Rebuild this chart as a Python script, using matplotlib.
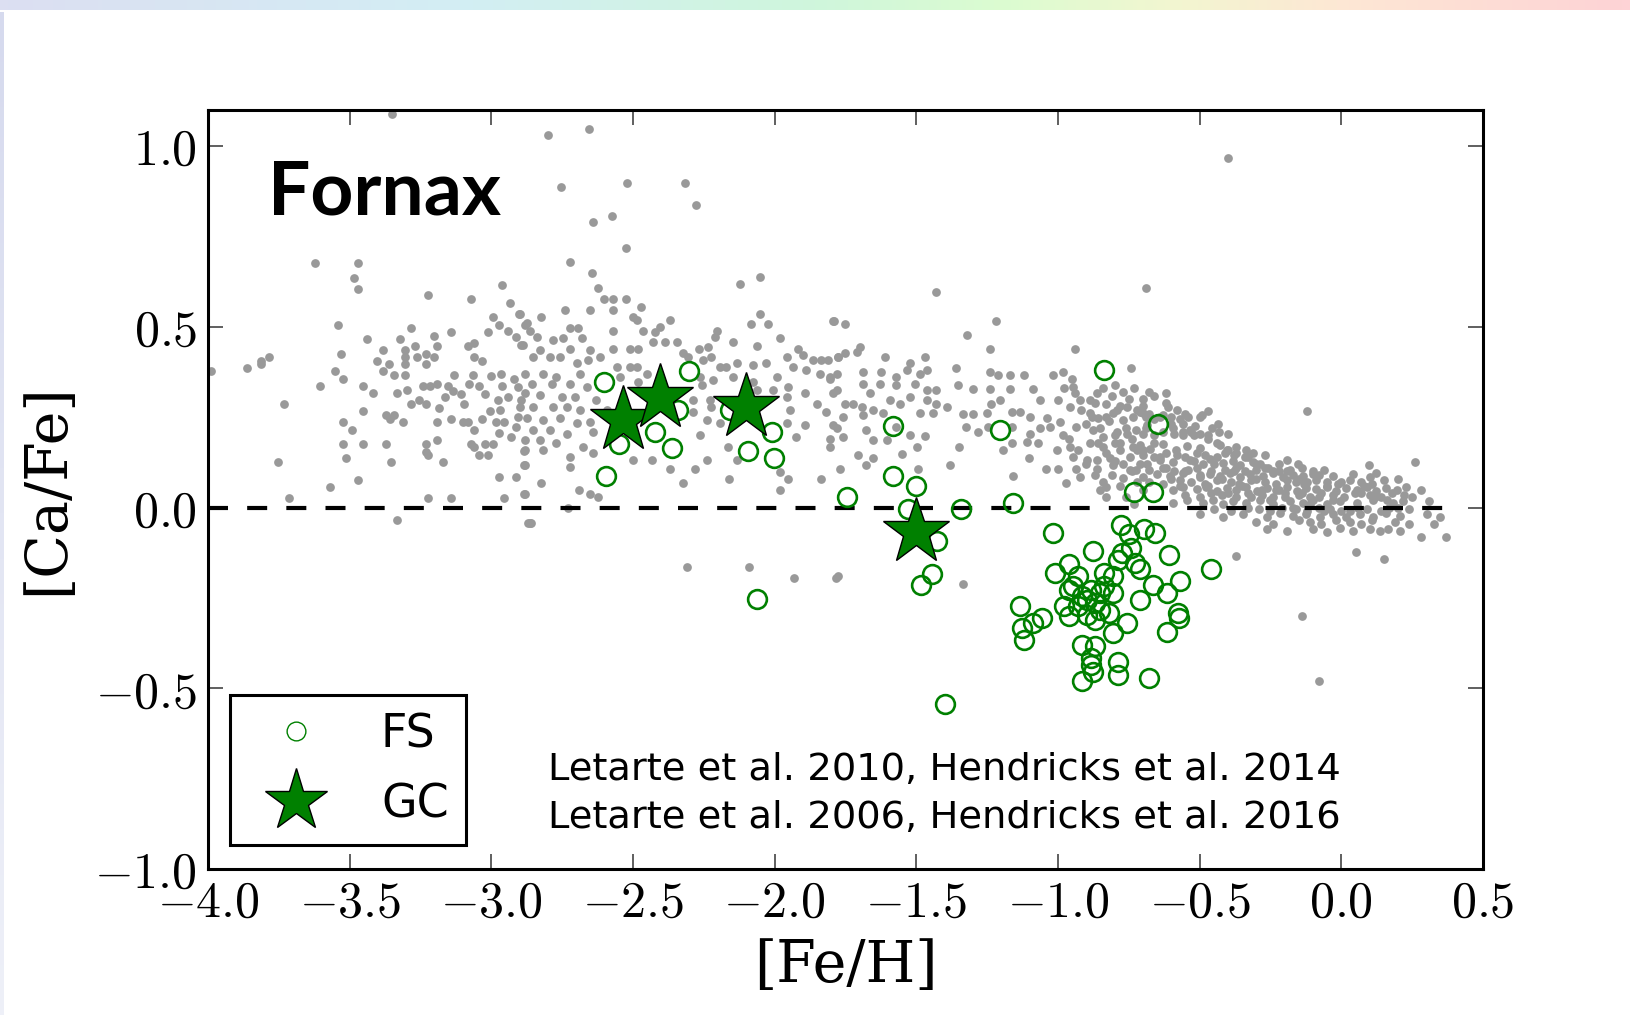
import matplotlib
matplotlib.use('Agg')
import matplotlib.pyplot as plt
import matplotlib.ticker as mticker
import numpy as np
from matplotlib.lines import Line2D
from matplotlib.colors import LinearSegmentedColormap

plt.rcParams['mathtext.fontset'] = 'cm'
plt.rcParams['font.family'] = 'DejaVu Sans'

# field stars of the MW-like comparison sample (gray) in chunks
gray_poor = [
    (-3.624, 0.677), (-3.472, 0.677), (-3.483, 0.635), (-3.472, 0.605), (-3.224, 0.587),
    (-2.964, 0.616), (-3.073, 0.576), (-2.934, 0.566), (-2.903, 0.537), (-2.993, 0.526),
    (-2.882, 0.506), (-2.972, 0.506), (-2.942, 0.490), (-2.913, 0.472), (-2.895, 0.449),
    (-3.013, 0.487), (-3.142, 0.486), (-3.283, 0.496), (-3.542, 0.506), (-3.438, 0.467),
    (-3.323, 0.466), (-3.201, 0.476), (-3.193, 0.447), (-3.271, 0.447), (-3.303, 0.437),
    (-3.383, 0.437), (-3.532, 0.426), (-3.783, 0.416), (-3.812, 0.407), (-3.812, 0.396),
    (-3.862, 0.387), (-3.991, 0.377), (-3.404, 0.407), (-3.362, 0.396), (-3.303, 0.416),
    (-3.303, 0.396), (-3.262, 0.416), (-3.232, 0.426), (-3.232, 0.396), (-3.203, 0.416),
    (-3.083, 0.447), (-3.062, 0.456), (-3.062, 0.416), (-3.033, 0.407), (-3.553, 0.377),
    (-3.523, 0.356), (-3.383, 0.377), (-3.342, 0.366), (-3.303, 0.366), (-3.133, 0.366),
    (-3.066, 0.366), (-3.001, 0.363), (-2.966, 0.370), (-2.919, 0.356), (-3.603, 0.336),
    (-3.452, 0.336), (-3.418, 0.317), (-3.332, 0.317), (-3.297, 0.326), (-3.242, 0.336),
    (-3.218, 0.336), (-3.191, 0.343), (-3.154, 0.336), (-3.136, 0.324), (-3.165, 0.306),
    (-3.080, 0.343), (-3.042, 0.336), (-3.024, 0.315), (-2.962, 0.336), (-2.942, 0.306),
    (-2.907, 0.333), (-2.895, 0.297), (-3.732, 0.286), (-3.283, 0.286), (-3.254, 0.297),
    (-3.230, 0.286), (-3.183, 0.276), (-3.107, 0.315), (-3.095, 0.286), (-2.977, 0.297),
    (-2.969, 0.269), (-3.003, 0.266), (-3.452, 0.266), (-3.371, 0.255), (-3.342, 0.255),
    (-3.359, 0.246), (-3.523, 0.237), (-3.312, 0.237), (-3.193, 0.237), (-3.142, 0.246),
    (-3.101, 0.237), (-3.083, 0.237), (-3.033, 0.246), (-2.983, 0.237), (-2.954, 0.237),
    (-2.907, 0.250), (-2.913, 0.223), (-3.492, 0.216), (-3.062, 0.216), (-2.972, 0.207),
    (-2.930, 0.195), (-3.523, 0.177), (-3.452, 0.177), (-3.371, 0.177), (-3.232, 0.177),
    (-3.193, 0.186), (-3.071, 0.177), (-3.060, 0.168), (-3.024, 0.177), (-2.993, 0.177),
    (-3.230, 0.154), (-3.224, 0.146), (-3.042, 0.146), (-3.013, 0.146), (-2.883, 0.157),
    (-3.512, 0.136), (-3.753, 0.127), (-3.354, 0.127), (-3.171, 0.127), (-2.883, 0.117),
    (-2.972, 0.086), (-2.913, 0.086), (-3.472, 0.076), (-3.571, 0.057), (-3.713, 0.027),
    (-3.224, 0.027), (-3.142, 0.027), (-2.954, 0.027), (-2.883, 0.037), (-3.332, -0.033),
    (-2.872, -0.042), (-3.350, 1.090),
]

gray_mid = [
    (-2.801, 1.030), (-2.654, 1.047), (-2.753, 0.886), (-2.522, 0.898), (-2.317, 0.898),
    (-2.277, 0.837), (-2.640, 0.791), (-2.574, 0.806),
    (-2.523, 0.717), (-2.723, 0.679), (-2.643, 0.648), (-2.623, 0.607), (-2.123, 0.618),
    (-2.052, 0.637), (-2.601, 0.577), (-2.572, 0.577), (-2.523, 0.577), (-2.470, 0.556),
    (-2.741, 0.547), (-2.652, 0.547), (-2.572, 0.547), (-2.499, 0.528), (-2.487, 0.519),
    (-2.052, 0.537), (-1.793, 0.517), (-2.823, 0.528), (-2.899, 0.537), (-2.875, 0.510),
    (-2.370, 0.519), (-2.405, 0.500), (-2.423, 0.487), (-2.464, 0.488), (-2.570, 0.488),
    (-2.723, 0.496), (-2.693, 0.496), (-2.864, 0.488), (-2.840, 0.473), (-2.781, 0.463),
    (-2.748, 0.468), (-2.681, 0.468), (-2.082, 0.507), (-2.023, 0.507), (-2.202, 0.488),
    (-2.211, 0.473), (-2.146, 0.457), (-1.982, 0.468), (-2.429, 0.457), (-2.387, 0.457),
    (-2.346, 0.457), (-2.511, 0.440), (-2.481, 0.440), (-2.234, 0.445), (-2.267, 0.438),
    (-2.572, 0.438), (-2.652, 0.436), (-2.723, 0.439), (-2.828, 0.436), (-2.887, 0.450),
    (-2.062, 0.448), (-1.958, 0.417), (-1.917, 0.440), (-1.899, 0.422), (-1.864, 0.408),
    (-1.835, 0.408), (-1.811, 0.408), (-1.776, 0.417), (-2.223, 0.417), (-2.252, 0.408),
    (-2.305, 0.417), (-2.323, 0.427), (-2.617, 0.417), (-2.758, 0.417), (-2.793, 0.417),
    (-2.852, 0.417), (-2.699, 0.399), (-2.658, 0.408), (-2.558, 0.390), (-2.511, 0.390),
    (-2.487, 0.390), (-2.452, 0.371), (-2.193, 0.390), (-2.170, 0.390), (-2.134, 0.399),
    (-2.076, 0.394), (-2.029, 0.399), (-1.935, 0.390), (-1.888, 0.380), (-1.841, 0.371),
    (-1.805, 0.362), (-2.881, 0.371), (-2.817, 0.371), (-2.770, 0.362), (-2.687, 0.371),
    (-2.546, 0.362), (-2.264, 0.362), (-2.217, 0.353), (-2.146, 0.362), (-1.993, 0.362),
    (-2.858, 0.343), (-2.787, 0.343), (-2.723, 0.343), (-2.664, 0.334), (-2.481, 0.348),
    (-2.258, 0.339), (-2.099, 0.334), (-2.076, 0.348), (-2.064, 0.325), (-2.005, 0.325),
    (-1.952, 0.334), (-1.893, 0.318), (-1.793, 0.316), (-2.881, 0.316), (-2.828, 0.311),
    (-2.752, 0.307), (-2.705, 0.307), (-2.629, 0.297), (-2.287, 0.297), (-2.229, 0.297),
    (-2.170, 0.297), (-1.958, 0.307), (-1.852, 0.288), (-2.899, 0.279), (-2.852, 0.279),
    (-2.781, 0.279), (-2.734, 0.279), (-2.687, 0.270), (-2.593, 0.270), (-2.287, 0.265),
    (-2.223, 0.279), (-1.946, 0.270), (-1.817, 0.265), (-2.875, 0.247), (-2.817, 0.242),
    (-2.758, 0.247), (-2.699, 0.233), (-2.652, 0.238), (-2.240, 0.242), (-2.193, 0.233),
    (-1.958, 0.233), (-1.893, 0.228), (-1.793, 0.228), (-2.852, 0.214), (-2.793, 0.214),
    (-2.734, 0.205), (-2.640, 0.210), (-2.264, 0.200), (-1.923, 0.196), (-2.881, 0.187),
    (-2.828, 0.187), (-2.770, 0.178), (-2.676, 0.168), (-2.164, 0.168), (-1.805, 0.168),
    (-2.881, 0.159), (-2.817, 0.159), (-2.723, 0.141), (-2.640, 0.150), (-2.499, 0.131),
    (-2.434, 0.131), (-2.240, 0.131), (-2.134, 0.131), (-2.881, 0.118), (-2.723, 0.113),
    (-2.370, 0.108), (-2.282, 0.108), (-1.982, 0.099), (-2.823, 0.067), (-2.323, 0.067),
    (-2.160, 0.078), (-1.952, 0.078), (-1.835, 0.078), (-2.690, 0.048), (-2.652, 0.039),
    (-2.623, 0.030), (-1.982, 0.048), (-2.881, 0.039), (-2.728, -0.002), (-2.860, -0.042),
    (-2.311, -0.164), (-2.090, -0.164), (-1.933, -0.194), (-1.782, -0.194),
]

gray_rich = [
    (-1.431, 0.597), (-1.220, 0.517), (-0.688, 0.607), (-1.791, 0.517), (-1.752, 0.507),
    (-1.320, 0.477), (-1.699, 0.445), (-1.711, 0.431), (-1.752, 0.427), (-1.776, 0.417),
    (-1.611, 0.417), (-1.470, 0.417), (-1.240, 0.438), (-0.941, 0.438), (-0.741, 0.387),
    (-1.523, 0.399), (-1.360, 0.387), (-1.687, 0.376), (-1.623, 0.376), (-1.570, 0.362),
    (-1.534, 0.380), (-1.487, 0.371), (-1.464, 0.380), (-1.781, 0.371), (-1.805, 0.357),
    (-1.240, 0.376), (-1.211, 0.367), (-1.170, 0.367), (-1.120, 0.367), (-1.019, 0.367),
    (-0.982, 0.376), (-0.952, 0.357), (-0.946, 0.334), (-0.941, 0.316), (-1.687, 0.343),
    (-1.629, 0.343), (-1.570, 0.339), (-1.505, 0.343), (-1.464, 0.325), (-1.352, 0.339),
    (-1.299, 0.327), (-1.240, 0.327), (-1.170, 0.327), (-1.088, 0.327), (-0.864, 0.316),
    (-1.781, 0.325), (-1.664, 0.316), (-1.523, 0.307), (-1.429, 0.325), (-1.752, 0.288),
    (-1.723, 0.288), (-1.693, 0.279), (-1.652, 0.270), (-1.593, 0.297), (-1.558, 0.288),
    (-1.464, 0.297), (-1.429, 0.288), (-1.393, 0.279), (-1.235, 0.288), (-1.205, 0.297),
    (-1.064, 0.297), (-0.999, 0.297), (-0.958, 0.279), (-0.923, 0.297), (-0.888, 0.297),
    (-0.829, 0.288), (-0.793, 0.270), (-0.758, 0.279), (-0.711, 0.265), (-1.758, 0.251),
    (-1.687, 0.256), (-1.617, 0.261), (-1.487, 0.261), (-1.440, 0.261), (-1.335, 0.259),
    (-1.299, 0.259), (-1.252, 0.261), (-1.164, 0.265), (-1.135, 0.265), (-1.099, 0.251),
    (-1.040, 0.247), (-0.994, 0.238), (-0.888, 0.261), (-0.858, 0.247), (-0.829, 0.251),
    (-0.805, 0.261), (-0.770, 0.242), (-0.735, 0.251), (-0.688, 0.256), (-1.781, 0.219),
    (-1.676, 0.214), (-1.570, 0.224), (-1.523, 0.201), (-1.470, 0.198), (-1.323, 0.224),
    (-1.282, 0.210), (-1.246, 0.224), (-1.164, 0.224), (-1.099, 0.205), (-1.064, 0.219),
    (-1.029, 0.224), (-0.982, 0.201), (-0.935, 0.224), (-0.876, 0.214), (-0.841, 0.196),
    (-0.793, 0.210), (-0.758, 0.205), (-0.723, 0.214), (-1.805, 0.191), (-1.758, 0.196),
    (-1.652, 0.187), (-1.605, 0.187), (-1.499, 0.168), (-1.349, 0.168), (-1.193, 0.159),
    (-1.164, 0.178), (-1.111, 0.182), (-1.070, 0.178), (-1.005, 0.159), (-0.958, 0.168),
    (-0.888, 0.178), (-0.841, 0.168), (-0.799, 0.178), (-0.782, 0.159), (-0.735, 0.168),
    (-0.699, 0.159), (-1.705, 0.145), (-1.652, 0.136), (-1.552, 0.148), (-1.102, 0.136),
    (-0.947, 0.141), (-0.899, 0.131), (-0.864, 0.131), (-0.817, 0.136), (-0.747, 0.141),
    (-1.770, 0.108), (-1.676, 0.118), (-1.493, 0.108), (-1.382, 0.118), (-1.041, 0.108),
    (-1.000, 0.108), (-0.935, 0.108), (-0.864, 0.108), (-0.805, 0.118), (-0.747, 0.104),
    (-0.711, 0.122), (-1.160, 0.087), (-0.970, 0.067), (-0.923, 0.085), (-0.770, 0.081),
    (-0.852, 0.048), (-0.829, 0.030), (-0.829, 0.058), (-0.723, 0.104),
    (-1.775, -0.190), (-1.335, -0.210), (-2.862, -0.042),
    (-0.88, 0.25), (-0.85, 0.22), (-0.82, 0.24), (-0.80, 0.20), (-0.78, 0.18),
    (-0.76, 0.22), (-0.74, 0.19), (-0.72, 0.16), (-0.86, 0.18), (-0.83, 0.15),
    (-0.80, 0.13), (-0.77, 0.12), (-0.74, 0.10), (-0.72, 0.07), (-0.70, 0.05),
    (-0.78, 0.28), (-0.75, 0.30), (-0.72, 0.27), (-0.69, 0.22), (-0.66, 0.18),
    (-0.98, 0.33), (-0.92, 0.27), (-0.90, 0.23), (-0.87, 0.29), (-0.84, 0.33),
    (-0.81, 0.31), (-0.96, 0.19), (-0.93, 0.16), (-0.90, 0.12), (-0.87, 0.09),
    (-0.84, 0.07), (-0.81, 0.09), (-0.78, 0.06), (-0.76, 0.03), (-0.73, 0.01),
    (-0.80, 0.34), (-0.77, 0.32), (-0.73, 0.33), (-0.70, 0.28), (-0.68, 0.32),
]

gray_solar = [
    (-0.620, 0.318), (-0.470, 0.267), (-0.120, 0.267), (-0.611, 0.279), (-0.700, 0.261),
    (-0.687, 0.228), (-0.593, 0.220), (-0.558, 0.231), (-0.535, 0.214), (-0.517, 0.226),
    (-0.458, 0.219), (-0.435, 0.230),
    (-0.711, 0.172), (-0.676, 0.163), (-0.629, 0.175), (-0.582, 0.160), (-0.546, 0.170),
    (-0.499, 0.164), (-0.429, 0.173), (-0.405, 0.160), (-0.370, 0.168), (-0.335, 0.158),
    (-0.687, 0.122), (-0.640, 0.133), (-0.593, 0.125), (-0.535, 0.131), (-0.488, 0.120),
    (-0.464, 0.134), (-0.417, 0.124), (-0.382, 0.130), (-0.358, 0.119), (-0.311, 0.127),
    (-0.288, 0.121), (-0.193, 0.131), (-0.152, 0.122),
    (-0.699, 0.086), (-0.652, 0.094), (-0.605, 0.088), (-0.558, 0.095), (-0.499, 0.084),
    (-0.464, 0.093), (-0.429, 0.087), (-0.393, 0.096), (-0.358, 0.085), (-0.323, 0.092),
    (-0.276, 0.088), (-0.241, 0.095), (-0.205, 0.084), (-0.170, 0.091), (-0.135, 0.087),
    (-0.099, 0.094), (-0.029, 0.088), (0.042, 0.093), (0.101, 0.086), (0.124, 0.095),
    (-0.593, 0.049), (-0.558, 0.057), (-0.511, 0.051), (-0.476, 0.058), (-0.440, 0.047),
    (-0.405, 0.055), (-0.370, 0.050), (-0.335, 0.058), (-0.299, 0.046), (-0.264, 0.054),
    (-0.229, 0.049), (-0.193, 0.057), (-0.158, 0.047), (-0.123, 0.055), (-0.088, 0.051),
    (-0.052, 0.058), (-0.017, 0.046), (0.018, 0.054), (0.054, 0.049), (0.089, 0.057),
    (0.124, 0.047), (0.159, 0.055), (0.195, 0.050), (0.230, 0.056),
    (-0.593, 0.012), (-0.546, 0.020), (-0.488, 0.014), (-0.452, 0.021), (-0.417, 0.010),
    (-0.382, 0.018), (-0.335, 0.013), (-0.288, 0.021), (-0.241, 0.011), (-0.182, 0.019),
    (-0.135, 0.014), (-0.099, 0.022), (-0.052, 0.010), (-0.005, 0.018), (0.054, 0.013),
    (0.112, 0.020), (0.183, 0.012), (0.218, 0.019),
    (-0.499, -0.017), (-0.417, -0.025), (-0.346, -0.018), (-0.264, -0.026), (-0.217, -0.016),
    (-0.170, -0.024), (-0.123, -0.019), (-0.076, -0.027), (-0.029, -0.017), (0.018, -0.025),
    (0.065, -0.018), (0.112, -0.026), (0.159, -0.016), (0.206, -0.024), (0.301, -0.019),
    (0.348, -0.027),
    (-0.264, -0.058), (-0.193, -0.066), (-0.099, -0.060), (-0.052, -0.067), (-0.005, -0.057),
    (0.042, -0.065), (0.101, -0.059), (0.136, -0.066), (0.165, -0.058), (0.206, -0.064),
    (0.283, -0.081), (0.371, -0.081),
    (-0.370, -0.133), (0.051, -0.123), (0.151, -0.143), (0.259, 0.127), (0.098, 0.118),
    (0.200, 0.078), (0.309, 0.019), (0.326, -0.044), (-0.137, -0.301), (-0.079, -0.481),
    (-0.399, 0.967),
    (-0.70, 0.30), (-0.66, 0.31), (-0.62, 0.29), (-0.58, 0.27), (-0.55, 0.26),
    (-0.50, 0.25), (-0.68, 0.26), (-0.64, 0.25), (-0.60, 0.23), (-0.56, 0.21),
    (-0.52, 0.20), (-0.47, 0.19), (-0.44, 0.18), (-0.40, 0.16), (-0.37, 0.15),
    (-0.33, 0.14), (-0.30, 0.12), (-0.27, 0.11), (-0.24, 0.10), (-0.22, 0.12),
    (-0.19, 0.10), (-0.15, 0.08), (-0.12, 0.07), (-0.08, 0.09), (-0.05, 0.06),
    (0.00, 0.07), (0.05, 0.04), (0.08, 0.06), (0.12, 0.03), (0.16, 0.02),
    (0.20, 0.00), (0.25, 0.03), (0.28, 0.05),
    (-0.64, 0.14), (-0.62, 0.11), (-0.60, 0.08), (-0.57, 0.06), (-0.55, 0.10),
    (-0.52, 0.13), (-0.50, 0.09), (-0.47, 0.06), (-0.45, 0.12), (-0.42, 0.08),
    (-0.40, 0.04), (-0.38, 0.10), (-0.35, 0.06), (-0.32, 0.03), (-0.30, 0.08),
    (-0.28, 0.05), (-0.25, 0.02), (-0.22, 0.05), (-0.20, 0.03), (-0.17, 0.00),
    (-0.14, 0.04), (-0.11, 0.01), (-0.08, 0.03), (-0.06, -0.01), (-0.03, 0.02),
    (0.00, -0.01),
]

# the dense solar-metallicity clump, filled in row by row
gray_clump = [
    (-0.69, 0.25), (-0.66, 0.245), (-0.63, 0.255), (-0.60, 0.25), (-0.57, 0.245),
    (-0.54, 0.25), (-0.49, 0.255),
    (-0.70, 0.205), (-0.66, 0.20), (-0.63, 0.21), (-0.59, 0.205), (-0.56, 0.20),
    (-0.53, 0.21), (-0.50, 0.205), (-0.47, 0.20), (-0.43, 0.21), (-0.40, 0.205),
    (-0.70, 0.145), (-0.66, 0.14), (-0.62, 0.15), (-0.58, 0.145), (-0.55, 0.14),
    (-0.51, 0.15), (-0.48, 0.145), (-0.44, 0.14), (-0.41, 0.15), (-0.38, 0.145),
    (-0.34, 0.14), (-0.31, 0.15), (-0.27, 0.145),
    (-0.68, 0.105), (-0.63, 0.11), (-0.59, 0.10), (-0.54, 0.105), (-0.51, 0.11),
    (-0.46, 0.10), (-0.41, 0.105), (-0.37, 0.11), (-0.34, 0.10), (-0.30, 0.105),
    (-0.26, 0.11), (-0.22, 0.10), (-0.18, 0.105), (-0.14, 0.11), (-0.10, 0.10),
    (-0.06, 0.105),
    (-0.68, 0.07), (-0.63, 0.065), (-0.57, 0.075), (-0.53, 0.07), (-0.48, 0.065),
    (-0.44, 0.075), (-0.39, 0.07), (-0.36, 0.065), (-0.32, 0.075), (-0.27, 0.07),
    (-0.23, 0.065), (-0.19, 0.075), (-0.16, 0.07), (-0.13, 0.065), (-0.09, 0.075),
    (-0.05, 0.07), (-0.01, 0.065), (0.03, 0.075), (0.07, 0.07), (0.11, 0.065),
    (0.15, 0.075),
    (-0.55, 0.035), (-0.50, 0.03), (-0.46, 0.04), (-0.42, 0.035), (-0.37, 0.03),
    (-0.33, 0.04), (-0.28, 0.035), (-0.24, 0.03), (-0.20, 0.04), (-0.15, 0.035),
    (-0.11, 0.03), (-0.07, 0.04), (-0.03, 0.035), (0.01, 0.03), (0.07, 0.04),
    (0.10, 0.035), (0.14, 0.03), (0.18, 0.04), (0.22, 0.035),
    (-0.45, -0.005), (-0.39, -0.01), (-0.33, 0.00), (-0.29, -0.005), (-0.25, -0.01),
    (-0.21, 0.00), (-0.16, -0.005), (-0.12, -0.01), (-0.08, 0.00), (-0.04, -0.005),
    (0.03, -0.01), (0.06, 0.00), (0.09, -0.005), (0.14, -0.01), (0.17, 0.00),
    (0.24, -0.005),
    (-0.30, -0.04), (-0.24, -0.045), (-0.15, -0.035), (-0.11, -0.04), (-0.07, -0.045),
    (-0.02, -0.035), (0.03, -0.04), (0.07, -0.045), (0.11, -0.035), (0.19, -0.04),
    (0.24, -0.045),
]

# Fornax field stars (FS), open green circles
fs_feh = [-2.602, -2.303, -2.341, -2.422, -2.551, -2.362, -2.594, -2.158, -2.011, -2.094,
          -2.002, -1.582, -1.582, -1.502, -1.743, -1.529, -1.341, -1.427, -1.443, -1.482,
          -2.062, -1.206, -0.836, -0.648, -1.159, -0.730, -0.664, -1.017, -1.399, -0.459,
          -0.778, -0.695, -0.656, -0.750, -0.742, -0.774, -0.727, -0.876, -0.608, -0.962,
          -1.009, -0.931, -0.836, -0.805, -0.711, -0.664, -0.569, -0.962, -0.915, -0.884,
          -0.836, -0.805, -0.616, -0.711, -0.978, -0.931, -0.868, -0.821, -0.962, -0.899,
          -0.868, -1.135, -1.057, -1.088, -1.127, -1.119, -0.758, -0.577, -0.572, -0.616,
          -0.805, -0.915, -0.868, -0.884, -0.884, -0.789, -0.789, -0.915, -0.876, -0.679,
          -0.852, -0.899, -0.852, -0.946, -0.789]
fs_cafe = [0.348, 0.378, 0.270, 0.208, 0.175, 0.166, 0.088, 0.270, 0.208, 0.157,
           0.138, 0.226, 0.088, 0.059, 0.028, -0.003, -0.003, -0.092, -0.183, -0.215,
           -0.252, 0.214, 0.381, 0.230, 0.012, 0.042, 0.042, -0.069, -0.544, -0.169,
           -0.049, -0.058, -0.069, -0.074, -0.111, -0.125, -0.153, -0.120, -0.132, -0.157,
           -0.181, -0.190, -0.181, -0.190, -0.171, -0.213, -0.204, -0.228, -0.245, -0.228,
           -0.218, -0.236, -0.236, -0.255, -0.273, -0.273, -0.264, -0.292, -0.301, -0.296,
           -0.310, -0.271, -0.306, -0.319, -0.333, -0.366, -0.319, -0.292, -0.306, -0.343,
           -0.347, -0.380, -0.384, -0.417, -0.435, -0.426, -0.463, -0.481, -0.454, -0.472,
           -0.236, -0.255, -0.282, -0.218, -0.144]

# Fornax globular clusters (GC)
gc_feh = [-2.535, -2.405, -2.102, -1.502]
gc_cafe = [0.242, 0.302, 0.279, -0.067]

refs = ['Letarte et al. 2010, Hendricks et al. 2014',
        'Letarte et al. 2006, Hendricks et al. 2016']

fig = plt.figure(figsize=(16.3, 10.15), dpi=100)

# slide decoration: gradient strip on top, pale strip on the left
strip_cmap = LinearSegmentedColormap.from_list(
    'strip', [(0.0, '#dcdff2'), (0.28, '#d3eef4'), (0.5, '#cff6dc'), (0.62, '#dcfcd0'),
              (0.72, '#f2f6d0'), (0.82, '#fde8d4'), (1.0, '#fed3d6')])
top = fig.add_axes([0, 1 - 10 / 1015, 1, 10 / 1015])
top.imshow(np.linspace(0, 1, 400)[None, :], aspect='auto', cmap=strip_cmap)
top.axis('off')
side_cmap = LinearSegmentedColormap.from_list('side', ['#d6daee', '#eef0f8'])
side = fig.add_axes([0, 0, 4 / 1630, 1 - 12 / 1015])
side.imshow(np.linspace(0, 1, 200)[:, None], aspect='auto', cmap=side_cmap)
side.axis('off')

ax = fig.add_axes([0.1276, 0.1438, 0.7822, 0.7478])

for grp in [gray_poor, gray_mid, gray_rich, gray_solar, gray_clump]:
    g = np.array(grp)
    ax.plot(g[:, 0], g[:, 1], 'o', ms=6.3, mfc='#999999', mec='none', zorder=1)

ax.plot([-4.0, 0.4], [0, 0], color='k', lw=3, ls=(0, (4.8, 4.6)), zorder=2)

ax.plot(fs_feh, fs_cafe, 'o', ms=13.5, mfc='none', mec='green', mew=1.9, zorder=3)
ax.plot(gc_feh, gc_cafe, '*', ms=50, mfc='green', mec='k', mew=1, zorder=4)

ax.set_xlim(-4.0, 0.5)
ax.set_ylim(-1.0, 1.1)
ax.xaxis.set_major_locator(mticker.MultipleLocator(0.5))
ax.yaxis.set_major_locator(mticker.MultipleLocator(0.5))
fmt = mticker.FuncFormatter(lambda v, p: r'$%.1f$' % v)
ax.xaxis.set_major_formatter(fmt)
ax.yaxis.set_major_formatter(fmt)
ax.tick_params(direction='in', length=11, width=1.2, color='#444444',
               top=True, right=True, labelsize=36)
ax.tick_params(axis='x', pad=7)
ax.tick_params(axis='y', pad=8)
for s in ax.spines.values():
    s.set_linewidth(2.2)

ax.set_xlabel('[Fe/H]', fontfamily='DejaVu Serif', fontsize=41, labelpad=8)
ax.set_ylabel('[Ca/Fe]', fontfamily='DejaVu Serif', fontsize=41, labelpad=14)

ax.text(0.047, 0.862, 'Fornax', transform=ax.transAxes, fontfamily='Lato',
        fontweight='bold', fontsize=54, va='baseline')
ax.text(0.267, 0.117, refs[0], transform=ax.transAxes, fontsize=27.7, va='baseline')
ax.text(0.267, 0.054, refs[1], transform=ax.transAxes, fontsize=27.7, va='baseline')

handles = [Line2D([], [], ls='none', marker='o', ms=13.5, mfc='none', mec='green', mew=1.0),
           Line2D([], [], ls='none', marker='*', ms=47, mfc='green', mec='k', mew=1)]
leg = ax.legend(handles, ['FS', 'GC'], loc='lower left', bbox_to_anchor=(0.017, 0.032),
                borderaxespad=0, fontsize=33, numpoints=1, handlelength=2.14,
                handletextpad=0.78, borderpad=0.38, labelspacing=0.55,
                fancybox=False, framealpha=1)
leg.get_frame().set_edgecolor('k')
leg.get_frame().set_linewidth(2.2)

fig.savefig('out.png', dpi=100)
